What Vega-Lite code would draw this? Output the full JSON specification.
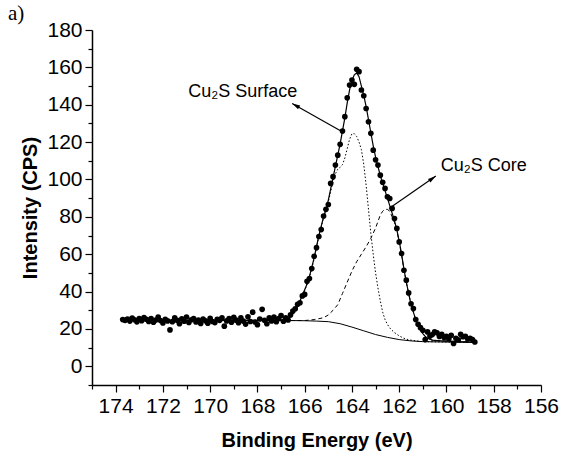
{
  "$schema": "https://vega.github.io/schema/vega-lite/v6.json",
  "autosize": "none",
  "width": 449,
  "height": 355,
  "padding": {"left": 92, "top": 30, "right": 36, "bottom": 70},
  "background": "white",
  "config": {"view": {"stroke": null}, "font": "Liberation Sans"},
  "title": {"text": "a)", "anchor": "start", "frame": "group", "dx": -84, "dy": 9, "offset": 4, "font": "Liberation Serif", "fontSize": 21, "fontWeight": "normal", "color": "black"},
  "resolve": {"axis": {"x": "independent", "y": "independent"}},
  "datasets": {
    "pts": [
      {"e":173.7,"i":25.0},{"e":173.6,"i":24.6},{"e":173.5,"i":25.3},{"e":173.4,"i":24.2},{"e":173.3,"i":25.8},{"e":173.2,"i":24.9},{"e":173.1,"i":23.8},{"e":173.0,"i":25.5},{"e":172.9,"i":24.4},{"e":172.8,"i":26.1},
      {"e":172.7,"i":25.2},{"e":172.6,"i":24.0},{"e":172.5,"i":25.6},{"e":172.4,"i":23.6},{"e":172.3,"i":24.8},{"e":172.2,"i":26.3},{"e":172.1,"i":24.5},{"e":172.0,"i":23.2},{"e":171.9,"i":25.1},{"e":171.8,"i":24.3},
      {"e":171.7,"i":19.5},{"e":171.6,"i":23.9},{"e":171.5,"i":25.9},{"e":171.4,"i":24.6},{"e":171.3,"i":22.8},{"e":171.2,"i":25.4},{"e":171.1,"i":24.1},{"e":171.0,"i":26.4},{"e":170.9,"i":23.5},{"e":170.8,"i":24.9},
      {"e":170.7,"i":25.6},{"e":170.6,"i":23.7},{"e":170.5,"i":24.8},{"e":170.4,"i":22.9},{"e":170.3,"i":25.3},{"e":170.2,"i":24.4},{"e":170.1,"i":23.1},{"e":170.0,"i":25.7},{"e":169.9,"i":24.0},{"e":169.8,"i":23.4},
      {"e":169.7,"i":25.2},{"e":169.6,"i":24.6},{"e":169.5,"i":26.0},{"e":169.4,"i":21.5},{"e":169.3,"i":24.3},{"e":169.2,"i":25.5},{"e":169.1,"i":23.6},{"e":169.0,"i":26.2},{"e":168.9,"i":24.7},{"e":168.8,"i":23.3},
      {"e":168.7,"i":25.9},{"e":168.6,"i":24.2},{"e":168.5,"i":22.6},{"e":168.4,"i":26.5},{"e":168.3,"i":24.0},{"e":168.2,"i":29.0},{"e":168.1,"i":23.7},{"e":168.0,"i":22.3},{"e":167.9,"i":25.3},{"e":167.8,"i":30.5},
      {"e":167.7,"i":24.6},{"e":167.6,"i":22.8},{"e":167.5,"i":25.9},{"e":167.4,"i":24.3},{"e":167.3,"i":26.4},{"e":167.2,"i":23.9},{"e":167.1,"i":25.6},{"e":167.0,"i":27.2},{"e":166.9,"i":24.1},{"e":166.8,"i":26.0},
      {"e":166.7,"i":24.8},{"e":166.6,"i":27.5},{"e":166.5,"i":29.6},{"e":166.4,"i":30.8},{"e":166.3,"i":33.2},{"e":166.2,"i":34.0},{"e":166.1,"i":37.7},{"e":166.0,"i":38.5},{"e":165.9,"i":45.5},{"e":165.8,"i":47.0},
      {"e":165.7,"i":52.3},{"e":165.6,"i":58.9},{"e":165.5,"i":63.5},{"e":165.4,"i":69.5},{"e":165.3,"i":73.2},{"e":165.2,"i":80.4},{"e":165.1,"i":84.0},{"e":165.0,"i":86.6},{"e":164.9,"i":97.9},{"e":164.8,"i":101.5},
      {"e":164.7,"i":107.7},{"e":164.6,"i":113.0},{"e":164.5,"i":118.8},{"e":164.4,"i":125.9},{"e":164.3,"i":133.6},{"e":164.2,"i":143.7},{"e":164.1,"i":150.5},{"e":164.0,"i":153.2},{"e":163.9,"i":150.9},{"e":163.8,"i":159.0},
      {"e":163.7,"i":157.7},{"e":163.6,"i":147.9},{"e":163.5,"i":144.8},{"e":163.4,"i":138.0},{"e":163.3,"i":130.9},{"e":163.2,"i":124.7},{"e":163.1,"i":115.7},{"e":163.0,"i":110.5},{"e":162.9,"i":107.7},{"e":162.8,"i":102.3},
      {"e":162.7,"i":98.5},{"e":162.6,"i":95.2},{"e":162.5,"i":90.7},{"e":162.4,"i":89.8},{"e":162.3,"i":84.5},{"e":162.2,"i":79.1},{"e":162.1,"i":73.8},{"e":162.0,"i":66.6},{"e":161.9,"i":60.4},{"e":161.8,"i":51.4},
      {"e":161.7,"i":46.1},{"e":161.6,"i":39.3},{"e":161.5,"i":33.5},{"e":161.4,"i":30.9},{"e":161.3,"i":25.0},{"e":161.2,"i":22.5},{"e":161.1,"i":20.7},{"e":161.0,"i":19.3},{"e":160.9,"i":14.3},{"e":160.8,"i":18.4},
      {"e":160.7,"i":16.2},{"e":160.6,"i":17.0},{"e":160.5,"i":18.5},{"e":160.4,"i":17.9},{"e":160.3,"i":16.0},{"e":160.2,"i":17.1},{"e":160.1,"i":15.4},{"e":160.0,"i":16.1},{"e":159.9,"i":14.8},{"e":159.8,"i":16.6},
      {"e":159.7,"i":12.2},{"e":159.6,"i":15.0},{"e":159.5,"i":14.2},{"e":159.4,"i":17.1},{"e":159.3,"i":15.8},{"e":159.2,"i":16.1},{"e":159.1,"i":14.6},{"e":159.0,"i":15.0},{"e":158.9,"i":14.3},{"e":158.8,"i":13.0}
    ],
    "fit": [
      {"e":173.7,"i":24.5},{"e":166.8,"i":24.6},{"e":166.7,"i":25.5},{"e":166.6,"i":26.5},{"e":166.5,"i":28.0},{"e":166.4,"i":30.0},{"e":166.3,"i":32.5},{"e":166.2,"i":35.0},{"e":166.1,"i":38.0},{"e":166.0,"i":41.0},
      {"e":165.9,"i":44.0},{"e":165.8,"i":48.0},{"e":165.7,"i":53.0},{"e":165.6,"i":58.0},{"e":165.5,"i":64.0},{"e":165.4,"i":70.0},{"e":165.3,"i":75.0},{"e":165.2,"i":80.0},{"e":165.1,"i":84.0},{"e":165.0,"i":89.0},
      {"e":164.9,"i":95.0},{"e":164.8,"i":101.0},{"e":164.7,"i":107.0},{"e":164.6,"i":113.0},{"e":164.5,"i":119.0},{"e":164.4,"i":126.0},{"e":164.3,"i":133.0},{"e":164.2,"i":141.0},{"e":164.1,"i":148.0},{"e":164.0,"i":153.0},
      {"e":163.9,"i":156.0},{"e":163.8,"i":157.0},{"e":163.7,"i":155.0},{"e":163.6,"i":150.0},{"e":163.5,"i":145.0},{"e":163.4,"i":139.0},{"e":163.3,"i":132.0},{"e":163.2,"i":125.0},{"e":163.1,"i":118.0},{"e":163.0,"i":112.0},
      {"e":162.9,"i":107.0},{"e":162.8,"i":102.0},{"e":162.7,"i":98.0},{"e":162.6,"i":94.0},{"e":162.5,"i":90.0},{"e":162.4,"i":86.0},{"e":162.3,"i":82.0},{"e":162.2,"i":78.0},{"e":162.1,"i":73.0},{"e":162.0,"i":67.0},
      {"e":161.9,"i":60.0},{"e":161.8,"i":52.0},{"e":161.7,"i":45.0},{"e":161.6,"i":39.0},{"e":161.5,"i":33.0},{"e":161.4,"i":29.0},{"e":161.3,"i":25.0},{"e":161.2,"i":22.0},{"e":161.1,"i":19.5},{"e":161.0,"i":17.5},
      {"e":160.9,"i":16.0},{"e":160.8,"i":15.0},{"e":160.7,"i":14.5},{"e":160.6,"i":14.0},{"e":160.4,"i":13.8},{"e":160.0,"i":13.5},{"e":159.5,"i":13.2},{"e":159.0,"i":13.0},{"e":158.8,"i":12.8}
    ],
    "bg": [
      {"e":173.7,"i":24.5},{"e":166.6,"i":24.5},{"e":166.0,"i":24.4},{"e":165.5,"i":24.2},{"e":165.0,"i":23.9},{"e":164.5,"i":22.8},{"e":164.0,"i":21.0},{"e":163.5,"i":19.0},{"e":163.0,"i":17.0},{"e":162.5,"i":15.5},
      {"e":162.0,"i":14.3},{"e":161.5,"i":13.6},{"e":161.0,"i":13.2},{"e":160.0,"i":13.0},{"e":158.8,"i":12.8}
    ],
    "surf": [
      {"e":166.8,"i":24.5},{"e":166.6,"i":26.0},{"e":166.4,"i":29.5},{"e":166.2,"i":34.5},{"e":166.0,"i":40.5},{"e":165.8,"i":47.5},{"e":165.6,"i":57.5},{"e":165.4,"i":69.5},{"e":165.2,"i":79.5},{"e":165.0,"i":88.0},
      {"e":164.8,"i":99.0},{"e":164.7,"i":103.0},{"e":164.6,"i":105.5},{"e":164.5,"i":106.5},{"e":164.4,"i":108.0},{"e":164.3,"i":111.5},{"e":164.2,"i":116.5},{"e":164.1,"i":121.5},{"e":164.0,"i":124.5},{"e":163.9,"i":124.5},
      {"e":163.8,"i":123.0},{"e":163.7,"i":120.0},{"e":163.6,"i":116.0},{"e":163.5,"i":108.0},{"e":163.4,"i":97.0},{"e":163.3,"i":84.0},{"e":163.2,"i":71.0},{"e":163.1,"i":60.0},{"e":163.0,"i":50.0},{"e":162.9,"i":42.0},
      {"e":162.8,"i":35.0},{"e":162.7,"i":29.0},{"e":162.6,"i":25.0},{"e":162.5,"i":22.5},{"e":162.4,"i":20.5},{"e":162.2,"i":18.0},{"e":162.0,"i":16.3},{"e":161.8,"i":15.0},{"e":161.6,"i":14.2},{"e":161.4,"i":13.8},
      {"e":161.2,"i":13.5},{"e":161.0,"i":13.2},{"e":160.0,"i":13.0},{"e":158.8,"i":12.8}
    ],
    "core": [
      {"e":166.6,"i":24.5},{"e":166.0,"i":24.5},{"e":165.6,"i":25.0},{"e":165.4,"i":25.5},{"e":165.2,"i":26.0},{"e":165.0,"i":27.5},{"e":164.8,"i":30.0},{"e":164.6,"i":33.0},{"e":164.4,"i":39.0},{"e":164.2,"i":45.0},
      {"e":164.0,"i":51.0},{"e":163.8,"i":56.0},{"e":163.6,"i":60.0},{"e":163.4,"i":64.0},{"e":163.2,"i":68.5},{"e":163.0,"i":74.0},{"e":162.8,"i":81.0},{"e":162.7,"i":83.0},{"e":162.6,"i":84.0},{"e":162.5,"i":84.0},
      {"e":162.4,"i":83.0},{"e":162.3,"i":80.0},{"e":162.2,"i":77.0},{"e":162.1,"i":72.5},{"e":162.0,"i":66.5},{"e":161.9,"i":59.5},{"e":161.8,"i":52.0},{"e":161.7,"i":45.0},{"e":161.6,"i":39.0},{"e":161.5,"i":33.0},
      {"e":161.4,"i":29.0},{"e":161.3,"i":25.0},{"e":161.2,"i":22.0},{"e":161.1,"i":19.5},{"e":161.0,"i":17.5},{"e":160.9,"i":16.0},{"e":160.8,"i":15.0},{"e":160.6,"i":14.0},{"e":160.4,"i":13.8},{"e":160.0,"i":13.5},
      {"e":159.5,"i":13.2},{"e":159.0,"i":13.0},{"e":158.8,"i":12.8}
    ],
    "labels": [
      {"e":170.93,"i":144.1,"t":"Cu₂S Surface"},
      {"e":160.24,"i":104.5,"t":"Cu₂S Core"}
    ],
    "arrows": [
      {"e":164.41,"i":125.5,"e2":166.53,"i2":140.7,"ang":300},
      {"e":162.43,"i":84.5,"e2":160.45,"i2":101.8,"ang":55}
    ]
  },
  "layer": [
    {
      "data": {"name": "bg"},
      "mark": {"type": "line", "color": "black", "strokeWidth": 1},
      "encoding": {
        "x": {"field": "e", "type": "quantitative", "scale": {"domain": [175, 156], "nice": false, "zero": false},
          "axis": {"orient": "bottom", "title": "Binding Energy (eV)", "values": [156,158,160,162,164,166,168,170,172,174],
            "grid": false, "domainColor": "black", "domainWidth": 1.5, "tickColor": "black", "tickWidth": 1.2, "tickSize": 7,
            "labelFontSize": 21, "labelColor": "black", "labelPadding": 3, "labelFlush": false, "labelOverlap": false,
            "titleFontSize": 20, "titleFontWeight": "bold", "titleColor": "black", "titlePadding": 14}},
        "y": {"field": "i", "type": "quantitative", "scale": {"domain": [-10, 180], "nice": false, "zero": false},
          "axis": {"orient": "left", "title": "Intensity (CPS)", "values": [0,20,40,60,80,100,120,140,160,180],
            "grid": false, "domainColor": "black", "domainWidth": 1.5, "tickColor": "black", "tickWidth": 1.2, "tickSize": 7,
            "labelFontSize": 21, "labelColor": "black", "labelPadding": 3, "labelFlush": false, "labelOverlap": false,
            "titleFontSize": 20, "titleFontWeight": "bold", "titleColor": "black", "titlePadding": 6}},
        "order": {"field": "e", "sort": "descending"}
      }
    },
    {
      "data": {"name": "surf"},
      "mark": {"type": "line", "color": "black", "strokeWidth": 1, "strokeDash": [1.5, 2]},
      "encoding": {
        "x": {"field": "e", "type": "quantitative",
          "axis": {"orient": "bottom", "title": null, "values": [157,159,161,163,165,167,169,171,173,175], "labels": false, "domain": false, "grid": false, "tickColor": "black", "tickWidth": 1.2, "tickSize": 4}},
        "y": {"field": "i", "type": "quantitative",
          "axis": {"orient": "left", "title": null, "values": [-10,10,30,50,70,90,110,130,150,170], "labels": false, "domain": false, "grid": false, "tickColor": "black", "tickWidth": 1.2, "tickSize": 4}},
        "order": {"field": "e", "sort": "descending"}
      }
    },
    {
      "data": {"name": "core"},
      "mark": {"type": "line", "color": "black", "strokeWidth": 1, "strokeDash": [4, 3]},
      "encoding": {
        "x": {"field": "e", "type": "quantitative", "axis": null},
        "y": {"field": "i", "type": "quantitative", "axis": null},
        "order": {"field": "e", "sort": "descending"}
      }
    },
    {
      "data": {"name": "fit"},
      "mark": {"type": "line", "color": "black", "strokeWidth": 1.2},
      "encoding": {
        "x": {"field": "e", "type": "quantitative", "axis": null},
        "y": {"field": "i", "type": "quantitative", "axis": null},
        "order": {"field": "e", "sort": "descending"}
      }
    },
    {
      "data": {"name": "pts"},
      "mark": {"type": "point", "filled": true, "color": "black", "opacity": 1, "size": 32, "shape": "circle"},
      "encoding": {
        "x": {"field": "e", "type": "quantitative", "axis": null},
        "y": {"field": "i", "type": "quantitative", "axis": null}
      }
    },
    {
      "data": {"name": "arrows"},
      "mark": {"type": "rule", "color": "black", "strokeWidth": 1.2},
      "encoding": {
        "x": {"field": "e", "type": "quantitative", "axis": null},
        "y": {"field": "i", "type": "quantitative", "axis": null},
        "x2": {"field": "e2"},
        "y2": {"field": "i2"}
      }
    },
    {
      "data": {"name": "arrows"},
      "mark": {"type": "point", "filled": true, "color": "black", "opacity": 1, "size": 90, "shape": "M0,0 L-0.45,1.7 L0.45,1.7 Z"},
      "encoding": {
        "x": {"field": "e2", "type": "quantitative", "axis": null},
        "y": {"field": "i2", "type": "quantitative", "axis": null},
        "angle": {"field": "ang", "type": "quantitative", "scale": null}
      }
    },
    {
      "data": {"name": "labels"},
      "mark": {"type": "text", "align": "left", "baseline": "alphabetic", "fontSize": 18, "color": "black", "font": "Liberation Sans"},
      "encoding": {
        "x": {"field": "e", "type": "quantitative", "axis": null},
        "y": {"field": "i", "type": "quantitative", "axis": null},
        "text": {"field": "t"}
      }
    }
  ]
}
